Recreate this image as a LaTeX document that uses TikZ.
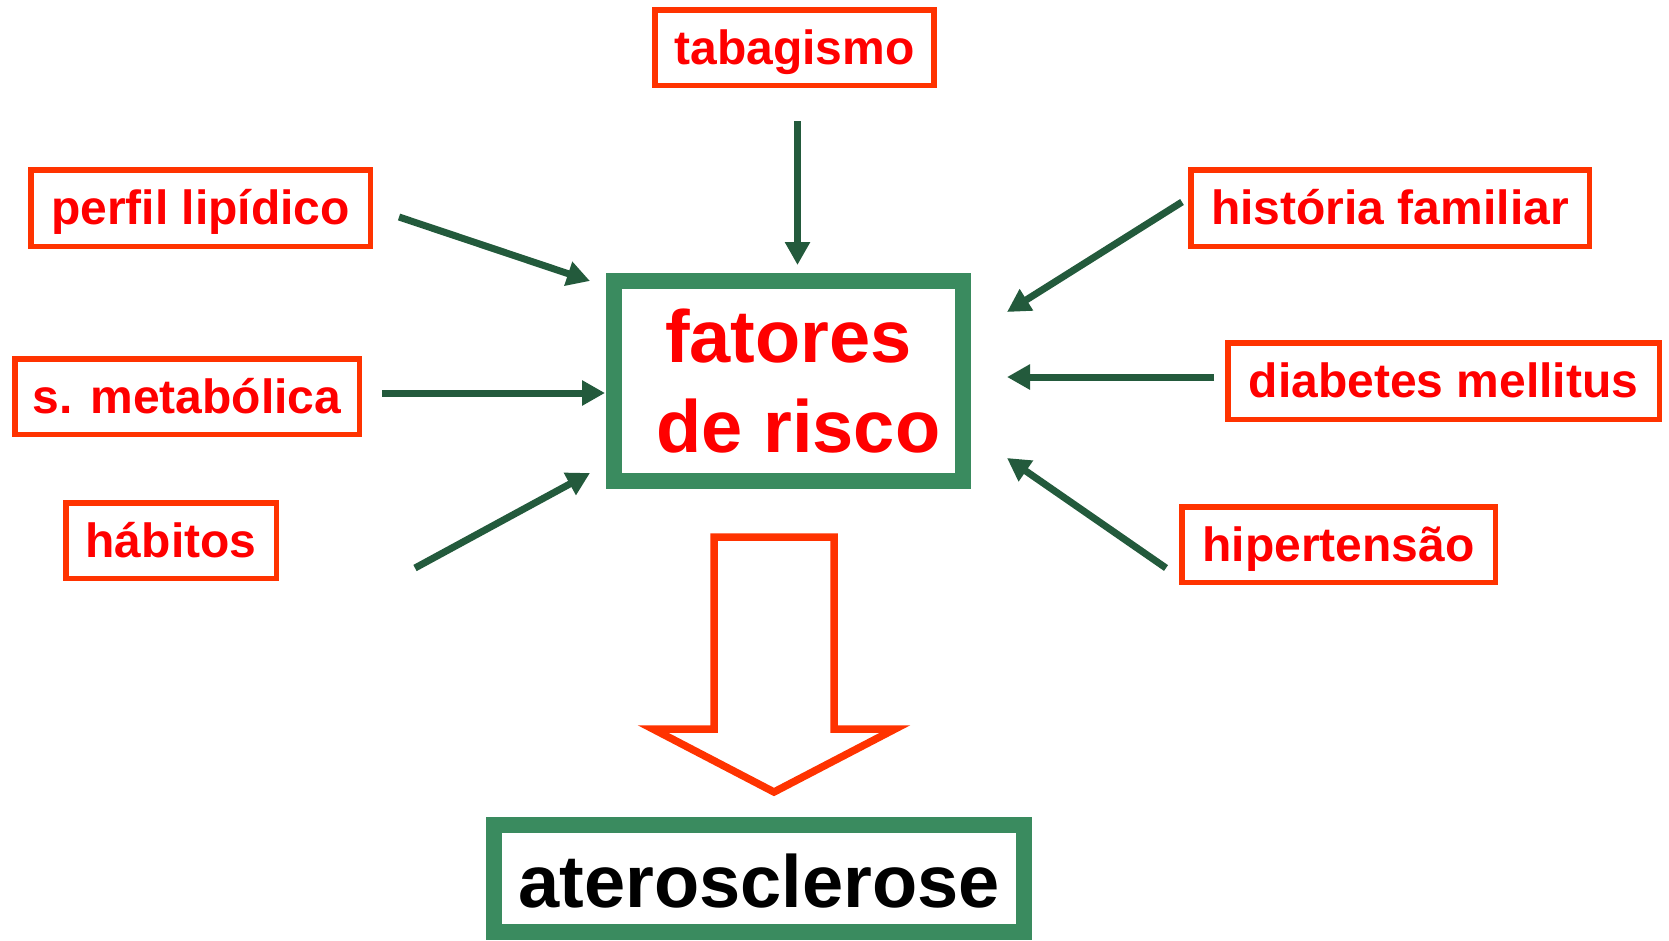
\documentclass[tikz,border=0pt]{standalone}
\usepackage{fontspec}
\setmainfont{Liberation Sans}
\usetikzlibrary{arrows.meta}
\definecolor{arrgreen}{HTML}{235A3C}
\definecolor{boxgreen}{HTML}{3A8B5F}
\definecolor{boxred}{HTML}{FF3300}
\definecolor{txtred}{HTML}{FF0000}
\begin{document}
\begin{tikzpicture}[x=1pt,y=-1pt,
  factor/.style={draw=boxred, line width=5.5pt, inner sep=0pt, text height=33pt, text depth=0pt,
    font=\fontsize{48}{58}\selectfont\bfseries, text=txtred},
  bigbox/.style={draw=boxgreen, line width=16pt, inner sep=0pt, font=\fontsize{74}{90}\selectfont\bfseries},
  conn/.style={draw=arrgreen, line width=7pt, -{Triangle[length=23pt,width=24pt]}},
  blockarrow/.style={draw=boxred, line width=7.5pt, miter limit=25}]
\useasboundingbox (0,0) rectangle (1669,940);

% factor boxes
\node[factor, minimum width=279pt, minimum height=75.5pt] (tab) at (794.5,47.5) {tabagismo};
\node[factor, minimum width=339.5pt, minimum height=76.5pt] (perfil) at (200.5,208) {perfil lipídico};
\node[factor, minimum width=344.5pt, minimum height=75.5pt] (smet) at (187,396.5) {s. metabólica};
\node[factor, minimum width=210.5pt, minimum height=75.5pt] (hab) at (171,540.5) {hábitos};
\node[factor, minimum width=398.5pt, minimum height=76.5pt] (hist) at (1390,208) {história familiar};
\node[factor, minimum width=431.5pt, minimum height=76.5pt] (diab) at (1443.5,381) {diabetes mellitus};
\node[factor, minimum width=313.5pt, minimum height=75.5pt] (hip) at (1338.5,544.5) {hipertensão};

% central box
\node[bigbox, text=txtred, align=center, minimum width=349pt, minimum height=200pt] (fat) at (788.5,381)
  {fatores\\\hspace*{20pt}de risco};

% result box
\node[bigbox, text=black, text height=57pt, text depth=0pt, minimum width=530pt, minimum height=107pt] (ater) at (759,878.5)
  {aterosclerose};

% arrow end points
\coordinate (tabS) at (797.5,121);  \coordinate (tabE) at (797.5,265);
\coordinate (perS) at (399,217);    \coordinate (perE) at (590,281);
\coordinate (smS) at (382,393);     \coordinate (smE) at (605,393);
\coordinate (habS) at (415,568);    \coordinate (habE) at (590,473);
\coordinate (hiS) at (1182,202);    \coordinate (hiE) at (1007,312);
\coordinate (diS) at (1214,377);    \coordinate (diE) at (1007,377);
\coordinate (hpS) at (1166,568);    \coordinate (hpE) at (1007,458);

\draw[conn] (tabS) -- (tabE);
\draw[conn] (perS) -- (perE);
\draw[conn] (smS) -- (smE);
\draw[conn] (habS) -- (habE);
\draw[conn] (hiS) -- (hiE);
\draw[conn] (diS) -- (diE);
\draw[conn] (hpS) -- (hpE);

% block arrow
\draw[blockarrow] (714,537) -- (834,537) -- (834,729) -- (895,729) -- (774,792) -- (653,729) -- (714,729) -- cycle;
\end{tikzpicture}
\end{document}
